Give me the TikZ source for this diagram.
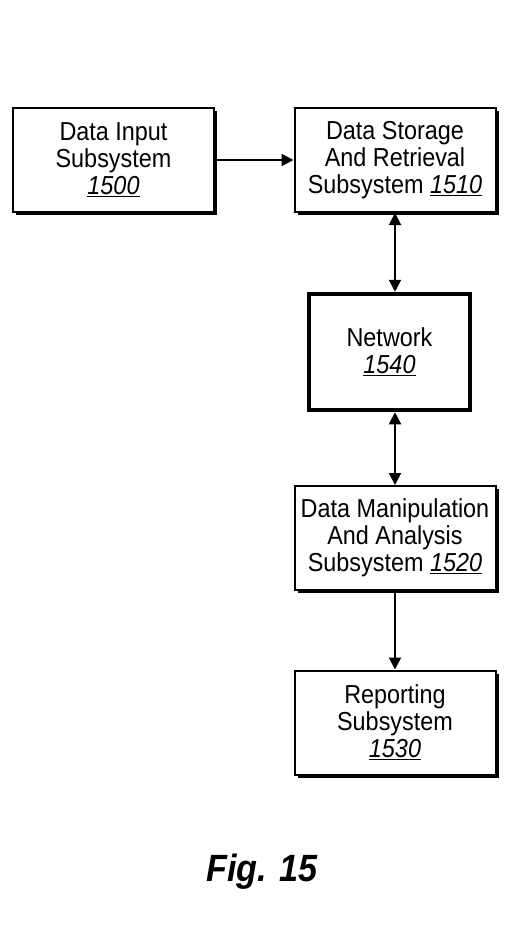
\documentclass[tikz,border=0pt]{standalone}
\usepackage{fontspec}
\setmainfont[FakeStretch=0.9]{Liberation Sans}
\usetikzlibrary{arrows.meta,shadows}
\tikzset{
  box/.style={draw, line width=2pt, fill=white, minimum width=201pt, minimum height=104pt,
    inner sep=0pt, align=center, font=\fontsize{26}{27}\selectfont,
    drop shadow={shadow xshift=3pt, shadow yshift=-3pt, fill=black, opacity=1}},
  netbox/.style={draw, line width=4.5pt, fill=white, minimum width=161pt, minimum height=116pt,
    inner sep=0pt, align=center, font=\fontsize{26}{27}\selectfont}
}
\newcommand{\refnum}[1]{\underline{\textit{#1}}}
\begin{document}
\begin{tikzpicture}[x=1pt, y=1pt, >={Triangle[length=12pt,width=12pt]}]
\useasboundingbox (0,0) rectangle (522,-938);

\node[box] (input) at (113.5,-160) {Data Input\\Subsystem\\\refnum{1500}};
\node[box] (store) at (395,-160) {Data Storage\\And Retrieval\\Subsystem \refnum{1510}};
\node[netbox] (net) at (389.5,-352) {Network\\\refnum{1540}};
\node[box] (analysis) at (395,-538) {Data Manipulation\\And Analysis\\Subsystem \refnum{1520}};
\node[box] (report) at (395,-722.5) {Reporting\\Subsystem\\\refnum{1530}};

\draw[line width=2pt, ->] (input.east) -- (store.west);
\draw[line width=2pt, <->] (store.south) -- (store.south |- net.north);
\draw[line width=2pt, <->] (analysis.north |- net.south) -- (analysis.north);
\draw[line width=2pt, ->] (analysis.south) -- (report.north);

\node[font=\fontsize{38}{40}\selectfont\bfseries\itshape] (fig) at (262,-872) {Fig. 15};

\end{tikzpicture}
\end{document}
